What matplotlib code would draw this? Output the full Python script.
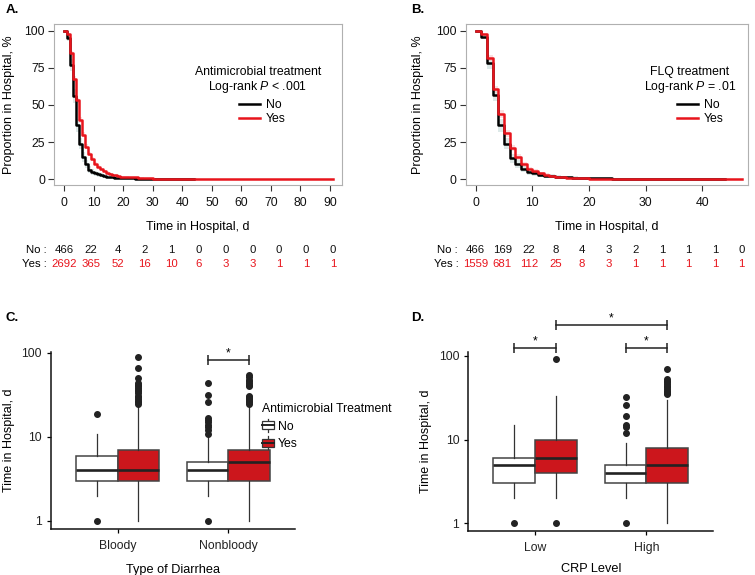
import numpy as np
import matplotlib
matplotlib.use("Agg")
from matplotlib import pyplot as plt
from matplotlib import transforms
from matplotlib.lines import Line2D
from matplotlib.patches import Rectangle
from matplotlib.legend_handler import HandlerBase

plt.rcParams['font.family'] = ['Liberation Sans', 'DejaVu Sans']
plt.rcParams['mathtext.fontset'] = 'custom'
plt.rcParams['mathtext.it'] = 'Liberation Sans:italic'
plt.rcParams['mathtext.rm'] = 'Liberation Sans'

# ---- panel A: any antimicrobial treatment (KM, % still in hospital)
a_days_no = [0, 1, 2, 3, 4, 5, 6, 7, 8, 9, 10, 11, 12, 13, 14, 15, 16, 17, 18, 20, 24, 30, 44]
a_surv_no = [100, 95, 77, 56, 36.3, 24, 15, 10, 6.5, 4.7, 3.9, 3.2, 2.6, 2.1, 1.7, 1.4, 1.2, 1.0,
             0.86, 0.64, 0.43, 0.21, 0.21]
a_days_yes = [0, 1, 2, 3, 4, 5, 6, 7, 8, 9, 10, 11, 12, 13, 14, 15, 16, 17, 18, 19, 20,
              22, 25, 27, 30, 36, 45, 55, 72, 91]
a_surv_yes = [100, 98, 85, 67.5, 53, 40, 30, 22, 17, 13.6, 10.5, 8.5, 6.8, 5.5, 4.5, 3.7, 3.1, 2.6,
              1.93, 1.7, 1.5, 1.3, 0.9, 0.59, 0.45, 0.37, 0.22, 0.11, 0.04, 0.04]
a_risk_times = [0, 9.1, 18.2, 27.3, 36.4, 45.5, 54.6, 63.7, 72.8, 81.9, 91]
a_risk_no = [466, 22, 4, 2, 1, 0, 0, 0, 0, 0, 0]
a_risk_yes = [2692, 365, 52, 16, 10, 6, 3, 3, 1, 1, 1]
a_xticks = [0, 10, 20, 30, 40, 50, 60, 70, 80, 90]

# ---- panel B: FLQ treatment
b_days_no = [0, 1, 2, 3, 4, 5, 6, 7, 8, 9, 10, 11, 12, 13, 14, 15, 16, 17, 18, 20, 24, 30, 44]
b_surv_no = [100, 96, 78, 57, 36.3, 24, 14, 10, 7, 4.7, 3.9, 3.0, 2.4, 2.0, 1.7, 1.4, 1.2, 1.0,
             0.86, 0.64, 0.43, 0.21, 0.21]
b_days_yes = [0, 1, 2, 3, 4, 5, 6, 7, 8, 9, 10, 11, 12, 13, 14, 15, 16, 17, 18, 20, 22, 23, 25, 27, 47]
b_surv_yes = [100, 98, 81.5, 60.5, 44, 31, 21, 15, 10, 7.2, 5.5, 4.0, 3.0, 2.2, 1.6, 1.2, 0.9, 0.7,
              0.51, 0.38, 0.26, 0.19, 0.13, 0.064, 0.064]
b_risk_times = [0, 4.7, 9.4, 14.1, 18.8, 23.5, 28.2, 32.9, 37.6, 42.3, 47]
b_risk_no = [466, 169, 22, 8, 4, 3, 2, 1, 1, 1, 0]
b_risk_yes = [1559, 681, 112, 25, 8, 3, 1, 1, 1, 1, 1]
b_xticks = [0, 10, 20, 30, 40]

km_yticks = [0, 25, 50, 75, 100]

# ---- panel C: type of diarrhea; box stats (whislo, q1, med, q3, whishi, outliers)
c_cats = ['Bloody', 'Nonbloody']
c_no = [(2, 3, 4, 6, 11, [1, 19]),
        (2, 3, 4, 5, 10, [1, 11, 12, 13, 14, 15, 16, 17, 26, 32, 44])]
c_yes = [(1, 3, 4, 7, 24, [25, 26, 27, 28, 30, 31, 33, 35, 36, 38, 40, 42, 44, 51, 67, 90]),
         (1, 3, 5, 7, 24, [25, 26, 27, 28, 29, 30, 31, 40, 42, 44, 46, 48, 52, 54])]
# (category a, group a, category b, group b, height)
c_brackets = [(1, 'No', 1, 'Yes', 82)]

# ---- panel D: CRP level
d_cats = ['Low', 'High']
d_no = [(2, 3, 5, 6, 15, [1]),
        (2, 3, 4, 5, 9, [1, 12, 14, 15, 19, 26, 32])]
d_yes = [(2, 4, 6, 10, 33, [1, 91]),
         (1, 3, 5, 8, 30, [35, 36, 37, 38, 40, 42, 44, 46, 48, 50, 53, 69])]
d_brackets = [(0, 'No', 0, 'Yes', 122), (1, 'No', 1, 'Yes', 122), (0, 'Yes', 1, 'Yes', 232)]

box_ticks = [1, 10, 100]

RED = '#E8141C'
BOXRED = '#CC161C'
W, H = 755, 575
FS = 8.8

fig = plt.figure(figsize=(W / 100, H / 100), dpi=100)


def fx(x):
    return x / W


def fy(y):
    return 1 - y / H


def add_ax(l, t, r, b):
    return fig.add_axes([fx(l), fy(b), (r - l) / W, (b - t) / H])


def km_band(ax, days, surv, n, color):
    s = np.array(surv) / 100.0
    half = 1.96 * np.sqrt(s * (1 - s) / n) * 100
    ax.fill_between(days, np.array(surv) - half, np.array(surv) + half,
                    step='post', color=color, lw=0, alpha=0.35)


def km_panel(ax, days_no, surv_no, days_yes, surv_yes, risk_t, risk_no, risk_yes,
             xticks, xlim, title, ptext, leg_xy, lab_off):
    km_band(ax, days_no, surv_no, risk_no[0], '#9FC0BE')
    km_band(ax, days_yes, surv_yes, risk_yes[0], '#F4A6A8')
    ax.step(days_no, surv_no, where='post', color='black', lw=1.8)
    ax.step(days_yes, surv_yes, where='post', color=RED, lw=1.8)
    ax.set_xlim(*xlim)
    ax.set_ylim(-3.9, 104.5)
    ax.set_xticks(xticks)
    ax.set_yticks(km_yticks)
    ax.tick_params(axis='x', direction='out', length=4.5, width=0.8, color='#333333',
                   labelsize=FS, pad=4.5, labelcolor='#111111')
    ax.tick_params(axis='y', direction='out', length=4.5, width=0.8, color='#333333',
                   labelsize=FS, pad=2, labelcolor='#111111')
    for sp in ax.spines.values():
        sp.set_color('#B0B0B0')
        sp.set_linewidth(0.8)
    ax.set_xlabel('Time in Hospital, d', fontsize=FS + 0.2)
    ax.xaxis.set_label_coords(0.5, -0.222)
    ax.set_ylabel('Proportion in Hospital, %', fontsize=FS + 0.2)

    # number at risk table
    tr = transforms.blended_transform_factory(ax.transData, ax.transAxes)
    for t, a, b in zip(risk_t, risk_no, risk_yes):
        ax.text(t, -0.404, str(a), transform=tr, ha='center', va='center', fontsize=8.2,
                color='#111111', clip_on=False)
        ax.text(t, -0.49, str(b), transform=tr, ha='center', va='center', fontsize=8.2,
                color=RED, clip_on=False)
    ax.annotate('No :', xy=(0, -0.404), xycoords=tr, xytext=(-lab_off[0], 0),
                textcoords='offset points', ha='right', va='center', fontsize=8.2)
    ax.annotate('Yes :', xy=(0, -0.49), xycoords=tr, xytext=(-lab_off[1], 0),
                textcoords='offset points', ha='right', va='center', fontsize=8.2)

    # legend
    tx, lx = leg_xy
    fig.text(fx(tx), fy(72), title, ha='center', va='center', fontsize=FS)
    fig.text(fx(tx), fy(87), ptext, ha='center', va='center', fontsize=FS)
    handles = [Line2D([], [], color='black', lw=1.8), Line2D([], [], color=RED, lw=1.8)]
    ax.legend(handles, ['No', 'Yes'], loc='upper left', bbox_to_anchor=(fx(lx), fy(99)),
              bbox_transform=fig.transFigure, frameon=False, fontsize=FS, borderpad=0,
              borderaxespad=0, handlelength=1.75, handletextpad=0.45, labelspacing=0.15)


ax_a = add_ax(54, 24, 342, 185)
km_panel(ax_a, a_days_no, a_surv_no, a_days_yes, a_surv_yes, a_risk_times, a_risk_no,
         a_risk_yes, a_xticks, (-3.5, 94.1), 'Antimicrobial treatment',
         'Log-rank $P$ < .001', (258, 239), (12.7, 12.7))
ax_a.yaxis.set_label_coords(-0.135, 0.5)

ax_b = add_ax(465.7, 24, 748, 185)
km_panel(ax_b, b_days_no, b_surv_no, b_days_yes, b_surv_yes, b_risk_times, b_risk_no,
         b_risk_yes, b_xticks, (-1.77, 48.1), 'FLQ treatment',
         'Log-rank $P$ = .01', (690, 677), (13, 12))
ax_b.yaxis.set_label_coords(-0.149, 0.5)


class BoxKey(HandlerBase):
    def __init__(self, fc):
        super().__init__()
        self.fc = fc

    def create_artists(self, legend, orig, xd, yd, w, h, fontsize, trans):
        x0, y0 = -xd, -yd
        cx = x0 + w / 2
        wh = Line2D([cx, cx], [y0 - h * 0.3, y0 + h * 1.3], color='#333333', lw=0.9,
                    transform=trans)
        box = Rectangle((x0, y0), w, h, fc=self.fc, ec='#333333', lw=0.9, transform=trans)
        med = Line2D([x0, x0 + w], [y0 + h / 2] * 2, color='#222222', lw=1.4, transform=trans)
        return [wh, box, med]


def box_panel(ax, cats, st_no, st_yes, brackets, ylim, xlabel, xlab_y):
    off = {'No': -0.1875, 'Yes': 0.1875}
    for i in range(len(cats)):
        for st, grp, fc in ((st_no[i], 'No', 'white'), (st_yes[i], 'Yes', BOXRED)):
            lo, q1, med, q3, hi, fl = st
            ax.bxp([dict(whislo=lo, q1=q1, med=med, q3=q3, whishi=hi, fliers=fl)],
                   positions=[i + 1 + off[grp]], widths=0.375, patch_artist=True,
                   showcaps=False, manage_ticks=False,
                   boxprops=dict(facecolor=fc, edgecolor='#444444', lw=1.1),
                   medianprops=dict(color='#222222', lw=1.9, solid_capstyle='butt'),
                   whiskerprops=dict(color='#333333', lw=0.9),
                   flierprops=dict(marker='o', markerfacecolor='#222222',
                                   markeredgecolor='#222222', markersize=4))
    ax.set_yscale('log')
    ax.set_ylim(*ylim)
    ax.set_xlim(0.4, 2.6)
    ax.set_yticks(box_ticks)
    ax.set_yticklabels([str(v) for v in box_ticks])
    ax.minorticks_off()
    ax.set_xticks([1, 2])
    ax.set_xticklabels(cats)
    for side in ('top', 'right'):
        ax.spines[side].set_visible(False)
    for side in ('left', 'bottom'):
        ax.spines[side].set_linewidth(1.1)
        ax.spines[side].set_color('#111111')
    ax.tick_params(direction='out', length=3, width=0.9, labelsize=FS, pad=3.5,
                   labelcolor='#222222')
    ax.tick_params(axis='x', pad=4.8)
    ax.set_xlabel(xlabel, fontsize=FS + 0.4)
    ax.xaxis.set_label_coords(0.5, xlab_y)
    ax.set_ylabel('Time in Hospital, d', fontsize=FS + 0.2)
    for ca, ga, cb, gb, yv in brackets:
        xa, xb = ca + 1 + off[ga], cb + 1 + off[gb]
        ax.plot([xa, xb], [yv, yv], color='#222222', lw=1.1, clip_on=False)
        ax.plot([xa, xb], [yv, yv], ls='none', marker='|', markersize=7, mew=1.1,
                color='#222222', clip_on=False)
        ax.annotate('*', xy=((xa + xb) / 2, yv), xytext=(0, 0.5), textcoords='offset points',
                    ha='center', va='bottom', fontsize=FS, annotation_clip=False)


ax_c = add_ax(51, 351.7, 295, 529.3)
box_panel(ax_c, c_cats, c_no, c_yes, c_brackets, (0.796, 103.6), 'Type of Diarrhea', -0.194)
ax_c.yaxis.set_label_coords(-0.147, 0.5)

h_no = Rectangle((0, 0), 1, 1)
h_yes = Rectangle((0, 0), 1, 1)
ax_c.legend([h_no, h_yes], ['No', 'Yes'], title='Antimicrobial Treatment',
            title_fontsize=FS, fontsize=FS, loc='upper left',
            bbox_to_anchor=(fx(261.7), fy(403)), bbox_transform=fig.transFigure,
            frameon=False, borderpad=0, borderaxespad=0, handlelength=1.0, handleheight=0.62,
            handletextpad=0.3, labelspacing=0.45, alignment='left',
            handler_map={h_no: BoxKey('white'), h_yes: BoxKey(BOXRED)})

ax_d = add_ax(468.3, 351.7, 713.3, 531)
box_panel(ax_d, d_cats, d_no, d_yes, d_brackets, (0.81, 111.6), 'CRP Level', -0.18)
ax_d.yaxis.set_label_coords(-0.15, 0.5)

for lab, x, y in (('A.', 6, 10), ('B.', 411, 10), ('C.', 5, 318), ('D.', 411, 318)):
    fig.text(fx(x), fy(y), lab, ha='left', va='center', fontsize=9.5, fontweight='bold')

fig.savefig('out.png', dpi=100)
